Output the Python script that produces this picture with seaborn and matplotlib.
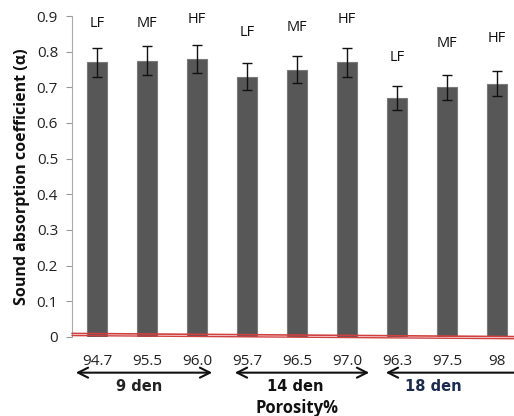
import matplotlib
matplotlib.use("Agg")
import matplotlib.pyplot as plt
import seaborn as sns
import pandas as pd
import numpy as np

porosity = ["94.7", "95.5", "96.0", "95.7", "96.5", "97.0", "96.3", "97.5", "98"]
alpha = [0.77, 0.775, 0.78, 0.73, 0.75, 0.77, 0.67, 0.70, 0.71]
err = [0.04, 0.04, 0.04, 0.037, 0.038, 0.04, 0.033, 0.035, 0.035]
fibre = ["LF", "MF", "HF", "LF", "MF", "HF", "LF", "MF", "HF"]
label_y = [0.88, 0.88, 0.89, 0.855, 0.868, 0.89, 0.785, 0.823, 0.838]
groups = ["9 den", "14 den", "18 den"]
trend = [0.010, 0.001]

sns.set_theme(style="white")
plt.rcParams['font.family'] = ['Open Sans', 'DejaVu Sans']

df = pd.DataFrame({"porosity": porosity, "alpha": alpha})

fig = plt.figure(figsize=(5.14, 4.16), dpi=100)
ax = fig.add_axes([72/514, (416-337)/416, 450/514, 321/416])

sns.barplot(data=df, x="porosity", y="alpha", order=porosity, color="#575757",
            width=0.4, errorbar=None, edgecolor="#7a7a7a", linewidth=0.8, ax=ax,
            saturation=1)
xs = np.arange(len(porosity))
ax.errorbar(xs, alpha, yerr=err, fmt="none", ecolor="#111111", elinewidth=1,
            capsize=3.5, capthick=1)

for x, t, y in zip(xs, fibre, label_y):
    ax.text(x, y, t, ha="center", va="center", fontsize=10.5, color="#111111")

# red trend line near zero
ax.plot([-0.5, 8.5], trend, color="#d04040", lw=1.2, clip_on=False, zorder=5)
ax.plot([-0.5, 8.5], [v - 0.006 for v in trend], color="#d04040", lw=1.0,
        clip_on=False, zorder=5)

ax.set_xlim(-0.5, 8.5)
ax.set_ylim(0, 0.9)
ax.set_yticks(np.arange(0, 0.91, 0.1))
ax.set_yticklabels(["0"] + [f"{v:.1f}" for v in np.arange(0.1, 0.91, 0.1)])
ax.tick_params(axis="y", left=True, length=4, width=0.8, color="#999999",
               labelsize=11, labelcolor="#222222", pad=6)
ax.tick_params(axis="x", bottom=False, labelsize=11, labelcolor="#222222", pad=6)
ax.set_xlabel("")
ax.set_ylabel("Sound absorption coefficient (α)", fontsize=11.5, fontweight="bold",
              color="#111111", labelpad=5)
for s in ["top", "right", "bottom"]:
    ax.spines[s].set_visible(False)
ax.spines["left"].set_color("#aaaaaa")
ax.spines["left"].set_linewidth(0.8)

# group arrows
arrow_spans = [(-0.48, 2.36), (2.7, 5.5), (5.72, 8.9)]
text_x = [0.85, 3.97, 6.72]
text_colors = ["#222222", "#111111", "#1a2a50"]
for (a, b), tx, g, c in zip(arrow_spans, text_x, groups, text_colors):
    ax.annotate("", xy=(b, -0.1), xytext=(a, -0.1), xycoords=("data", "data"),
                arrowprops=dict(arrowstyle="<->", color="#111111", lw=1.5,
                                mutation_scale=18), annotation_clip=False)
    ax.text(tx, -0.14, g, ha="center", va="center", fontsize=10.5,
            fontweight="bold", family="DejaVu Sans", color=c, clip_on=False)

fig.text(297/514, 1 - 408/416, "Porosity%", ha="center", va="center",
         fontsize=12, fontweight="bold", color="#111111")

fig.savefig("out.png", dpi=100)
